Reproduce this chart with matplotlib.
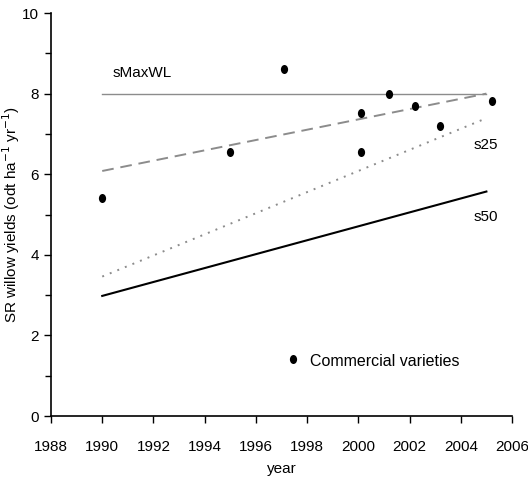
import numpy as np
import matplotlib
matplotlib.use('Agg')
import matplotlib.pyplot as plt
from matplotlib.path import Path

plt.rcParams['font.family'] = ['Liberation Sans', 'DejaVu Sans']

# ============================================================
# DATA
# ============================================================

obs_year = [1990, 1995, 1997.1, 2000.1, 2000.1, 2001.2, 2002.2, 2003.2, 2005.2]
obs_yield = [5.42, 6.55, 8.61, 7.51, 6.55, 8.0, 7.69, 7.2, 7.82]

scen_year = [1990, 2005]
smaxwl = [8.0, 8.0]
s_dashed = [6.08, 8.0]
s25 = [3.46, 7.39]
s50 = [2.98, 5.57]

xticks = list(range(1988, 2007, 2))
yticks = [0, 2, 4, 6, 8, 10]

# slightly tall elliptical dot, like the printed original
circ = Path.unit_circle()
dot = Path(circ.vertices * [0.8, 1.0], circ.codes)

# ============================================================
# PLOT
# ============================================================

fig = plt.figure(figsize=(5.28, 4.78), dpi=100)
ax = fig.add_axes([0.0966, 0.1297, 0.8731, 0.8431])

ax.plot(scen_year, smaxwl, color='#8c8c8c', lw=1.0)
ax.plot(scen_year, s_dashed, color='#8c8c8c', lw=1.4, dashes=(6, 3.5))
ax.plot(scen_year, s25, color='#8c8c8c', lw=1.4, dashes=(1, 3.2))
ax.plot(scen_year, s50, color='black', lw=1.5)
ax.plot(obs_year, obs_yield, ls='none', marker=dot, color='black', ms=6.5, markeredgewidth=0)

# legend drawn by hand like the original
ax.plot([1997.45], [1.42], ls='none', marker=dot, color='black', ms=6.5, markeredgewidth=0)
ax.text(1998.1, 1.36, 'Commercial varieties', fontsize=11.5, va='center')

ax.text(1990.4, 8.52, 'sMaxWL', fontsize=11, va='center')
ax.text(2004.5, 6.72, 's25', fontsize=11, va='center')
ax.text(2004.5, 4.95, 's50', fontsize=11, va='center')

ax.set_xlim(1988, 2006)
ax.set_ylim(0, 10)
ax.set_xticks(xticks)
ax.set_yticks(yticks)
ax.set_yticks([1, 3, 5, 7, 9], minor=True)
ax.tick_params(axis='both', direction='out', labelsize=11, width=1, length=5)
ax.tick_params(axis='x', pad=12)
ax.tick_params(axis='y', which='minor', length=4, width=1)

for s in ['top', 'right']:
    ax.spines[s].set_visible(False)
for s in ['left', 'bottom']:
    ax.spines[s].set_linewidth(1.2)

ax.set_xlabel('year', fontsize=11, labelpad=6)
ax.set_ylabel('SR willow yields (odt ha$^{-1}$ yr$^{-1}$)', fontsize=11)
ax.yaxis.set_label_coords(-0.062, 0.5)

plt.savefig('out.png', dpi=100)
